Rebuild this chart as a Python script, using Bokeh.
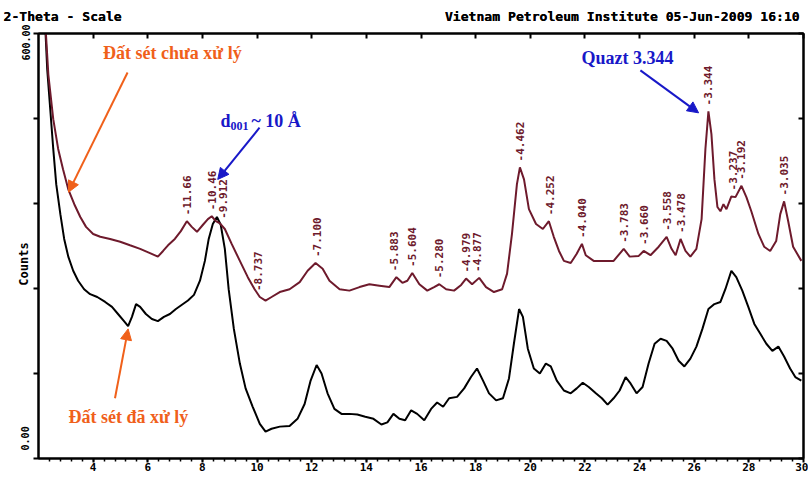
import math
from bokeh.plotting import figure
from bokeh.models import (Range1d, LinearAxis, FixedTicker, Label, Arrow,
                          NormalHead, ColumnDataSource)
from bokeh.core.properties import value
from bokeh.embed import file_html
from bokeh.resources import INLINE

# ---------------- data ----------------
# untreated clay (upper, maroon)
raw_theta = [2.21, 2.36, 2.54, 2.72, 2.90, 3.09, 3.31, 3.53, 3.74, 4.00, 4.26, 4.62,
             4.99, 5.35, 5.72, 6.08, 6.37, 6.56, 6.74, 6.99, 7.21, 7.43, 7.61, 7.80,
             8.02, 8.20, 8.34, 8.49, 8.64, 8.82, 9.07, 9.37, 9.66, 9.91, 10.10, 10.31,
             10.53, 10.83, 11.19, 11.56, 11.85, 12.14, 12.40, 12.65, 13.02, 13.38,
             13.75, 14.11, 14.48, 14.84, 15.10, 15.32, 15.50, 15.68, 15.94, 16.23,
             16.48, 16.67, 16.92, 17.21, 17.47, 17.65, 17.87, 18.13, 18.38, 18.67,
             18.97, 19.15, 19.33, 19.51, 19.62, 19.77, 19.95, 20.21, 20.46, 20.68,
             20.86, 21.05, 21.23, 21.48, 21.70, 21.89, 22.03, 22.32, 22.69, 23.05,
             23.42, 23.64, 23.97, 24.15, 24.40, 24.70, 24.99, 25.17, 25.32, 25.50,
             25.68, 25.86, 26.08, 26.27, 26.41, 26.52, 26.63, 26.74, 26.85, 26.96,
             27.07, 27.18, 27.36, 27.51, 27.73, 27.91, 28.09, 28.35, 28.56, 28.78,
             29.00, 29.15, 29.29, 29.44, 29.62, 29.92]
raw_counts = [640, 542, 479, 437, 408, 380, 359, 341, 327, 317, 313, 310,
              306, 301, 296, 290, 285, 293, 301, 310, 321, 335, 327, 320,
              330, 338, 342, 335, 332, 324, 303, 279, 256, 239, 228, 223,
              228, 235, 239, 249, 265, 276, 268, 251, 239, 237,
              242, 246, 244, 242, 256, 248, 251, 262, 246, 237,
              242, 246, 239, 237, 245, 254, 246, 255, 242, 235,
              239, 261, 317, 387, 411, 394, 352, 331, 324, 335,
              313, 293, 279, 276, 289, 303, 287, 279, 279, 279,
              296, 285, 286, 293, 287, 299, 313, 296, 287, 310,
              293, 285, 296, 338, 437, 490, 458, 394, 355, 349,
              359, 352, 370, 369, 385, 369, 349, 317, 299, 293,
              307, 345, 363, 335, 299, 279]

# treated clay (lower, black)
trt_theta = [2.21, 2.32, 2.43, 2.54, 2.65, 2.80, 2.94, 3.09, 3.27, 3.45, 3.67, 3.89,
             4.15, 4.44, 4.69, 4.91, 5.13, 5.28, 5.42, 5.57, 5.72, 5.93, 6.15, 6.37,
             6.59, 6.81, 7.03, 7.25, 7.47, 7.69, 7.91, 8.09, 8.23, 8.38, 8.53, 8.67,
             8.82, 8.96, 9.15, 9.37, 9.58, 9.84, 10.10, 10.31, 10.53, 10.83, 11.19,
             11.48, 11.74, 11.96, 12.18, 12.36, 12.58, 12.83, 13.09, 13.38, 13.67,
             13.96, 14.26, 14.55, 14.77, 14.99, 15.21, 15.42, 15.64, 15.86, 16.12,
             16.37, 16.59, 16.81, 17.03, 17.32, 17.58, 17.83, 18.05, 18.27, 18.49,
             18.75, 19.00, 19.22, 19.40, 19.59, 19.73, 19.91, 20.13, 20.35, 20.57,
             20.75, 20.97, 21.23, 21.48, 21.70, 21.92, 22.14, 22.40, 22.62, 22.83,
             23.05, 23.27, 23.49, 23.67, 23.89, 24.11, 24.33, 24.55, 24.77, 24.99,
             25.21, 25.43, 25.64, 25.86, 26.08, 26.30, 26.52, 26.74, 26.96, 27.14,
             27.36, 27.54, 27.76, 27.98, 28.20, 28.42, 28.64, 28.86, 29.08, 29.29,
             29.51, 29.70, 29.92]
trt_counts = [640, 549, 493, 437, 387, 345, 310, 285, 265, 251, 239, 232,
              228, 221, 214, 204, 194, 187, 200, 218, 214, 204, 197, 194,
              200, 204, 211, 217, 223, 231, 251, 279, 310, 331, 341, 330,
              296, 239, 183, 134, 99, 73, 49, 38, 42, 45, 46,
              56, 77, 110, 132, 120, 92, 70, 63, 63, 62,
              59, 56, 48, 51, 63, 56, 54, 68, 63, 54,
              70, 79, 73, 85, 87, 99, 115, 127, 110, 92,
              82, 85, 113, 162, 211, 200, 155, 127, 120, 134,
              130, 110, 96, 92, 99, 107, 101, 92, 85, 76,
              85, 96, 115, 106, 92, 101, 134, 162, 169, 166,
              155, 138, 130, 141, 158, 183, 211, 218, 221, 239,
              265, 256, 237, 214, 190, 176, 162, 152, 158, 144,
              127, 115, 110]

# d-spacing labels of the untreated sample
peak_theta = [7.43, 8.34, 8.75, 10.02, 12.18, 15.02, 15.68, 16.67, 17.65, 18.05,
              19.62, 20.72, 21.89, 23.42, 24.15, 24.99, 25.50, 26.52, 27.43, 27.73,
              29.29]
peak_counts = [335, 342, 330, 228, 276, 256, 262, 246, 254, 255,
               411, 335, 303, 296, 293, 313, 310, 490, 370, 385, 363]
peak_text = ["11.66", "10.46", "9.912", "8.737", "7.100", "5.883", "5.604", "5.280",
             "4.979", "4.877", "4.462", "4.252", "4.040", "3.783", "3.660", "3.558",
             "3.478", "3.344", "3.237", "3.192", "3.035"]

x_ticks = list(range(4, 31, 2))
y_ticks = [0, 120, 240, 360, 480, 600]
header_left = "2-Theta - Scale"
header_right = "Vietnam Petroleum Institute 05-Jun-2009 16:10"

MAROON = "#6e1a2c"
ORANGE = "#f0601a"
BLUE = "#1818c8"
MONO = "DejaVu Sans Mono"
SERIF = "Liberation Serif"
NB = "\u00a0"

# ---------------- figure ----------------
p = figure(width=808, height=474, x_range=Range1d(2, 30), y_range=Range1d(0, 600),
           output_backend="svg", toolbar_location=None,
           min_border_left=38, min_border_right=5, min_border_top=33,
           min_border_bottom=16)
p.background_fill_color = "white"
p.border_fill_color = "white"
p.outline_line_color = "black"
p.outline_line_width = 2
p.xgrid.visible = False
p.ygrid.visible = False

# bottom axis
xa = p.xaxis[0]
xa.ticker = FixedTicker(ticks=x_ticks,
                        minor_ticks=[round(2 + 0.4 * i, 1) for i in range(1, 70)])
xa.axis_line_width = 2
xa.major_tick_line_width = 2
xa.major_tick_out = 4
xa.major_tick_in = 0
xa.minor_tick_out = 3
xa.minor_tick_in = 0
xa.minor_tick_line_width = 1.5
xa.major_label_standoff = 0
xa.major_label_text_font = MONO
xa.major_label_text_font_style = "bold"
xa.major_label_text_font_size = "11px"
xa.major_label_text_color = "black"

# left axis
ya = p.yaxis[0]
ya.ticker = FixedTicker(ticks=y_ticks)
ya.axis_line_width = 2
ya.major_tick_line_width = 2
ya.major_tick_out = 5
ya.major_tick_in = 0
ya.minor_tick_line_color = None
ya.major_label_orientation = "vertical"
ya.major_label_standoff = 2
ya.major_label_text_font = MONO
ya.major_label_text_font_style = "bold"
ya.major_label_text_font_size = "10px"
ya.major_label_text_color = "black"
ya.major_label_overrides = {0: NB * 4 + "0.00", 120: "", 240: "", 360: "",
                            480: "", 600: "600.00" + NB * 3}
ya.axis_label = "Counts" + NB * 5
ya.axis_label_text_font = MONO
ya.axis_label_text_font_style = "bold"
ya.axis_label_text_font_size = "12px"
ya.axis_label_text_color = "black"
ya.axis_label_standoff = -13

# top axis
ta = LinearAxis(ticker=FixedTicker(ticks=x_ticks), axis_line_width=2,
                major_tick_line_width=2, major_tick_in=5, major_tick_out=0,
                minor_tick_line_color=None, major_label_text_font_size="0px",
                major_label_text_color=None, major_label_standoff=0,
                axis_label_standoff=0,
                major_label_overrides={t: "" for t in x_ticks})
p.add_layout(ta, "above")
# right axis
ra = LinearAxis(ticker=FixedTicker(ticks=y_ticks), axis_line_width=2,
                major_tick_line_width=2, major_tick_in=5, major_tick_out=0,
                minor_tick_line_color=None, major_label_text_font_size="0px",
                major_label_text_color=None, major_label_standoff=0,
                axis_label_standoff=0,
                major_label_overrides={t: "" for t in y_ticks})
p.add_layout(ra, "right")

# header line as the title (monospace, padded with no-break spaces)
p.title.text = header_left + NB * 41 + header_right
p.title.text_font = MONO
p.title.text_font_style = "bold"
p.title.text_font_size = "13.1px"
p.title.text_color = "black"
p.title.align = "left"
p.title.offset = -35
p.title.standoff = -5
p.above = [ta, p.title]

# ---------------- curves ----------------
p.line(trt_theta, trt_counts, line_color="black", line_width=2)
p.line(raw_theta, raw_counts, line_color=MAROON, line_width=2)

src = ColumnDataSource(dict(x=peak_theta, y=peak_counts,
                            t=["-" + s for s in peak_text]))
p.text("x", "y", text="t", source=src, angle=math.pi / 2, text_align="left",
       text_baseline="middle", y_offset=-6, text_font=value(MONO),
       text_font_style="bold", text_font_size="11px", text_color=MAROON)

# ---------------- annotations ----------------
def note(x, y, text, color, size="18px", align="center", x_offset=0):
    p.add_layout(Label(x=x, y=y, text=text, text_color=color, text_font=SERIF,
                       text_font_style="bold", text_font_size=size,
                       text_align=align, text_baseline="middle", x_offset=x_offset))

note(6.90, 573, "Đất sét chưa xử lý", ORANGE)
note(5.29, 59, "Đất sét đã xử lý", ORANGE)
note(23.56, 565, "Quazt 3.344", BLUE)
note(8.66, 477, "d", BLUE, align="left")
note(8.66, 470, "001", BLUE, size="12px", align="left", x_offset=10)
note(8.66, 477, "~ 10 Å", BLUE, align="left", x_offset=31)

def arrow(x0, y0, x1, y1, color):
    p.add_layout(Arrow(end=NormalHead(size=11, fill_color=color, line_color=color),
                       x_start=x0, y_start=y0, x_end=x1, y_end=y1,
                       line_color=color, line_width=2))

arrow(5.26, 545, 3.10, 376, ORANGE)
arrow(4.80, 85, 5.28, 183, ORANGE)
arrow(10.09, 467, 8.56, 394, BLUE)
arrow(24.03, 548, 26.16, 488, BLUE)

open("out.html", "w").write(file_html(p, INLINE))
